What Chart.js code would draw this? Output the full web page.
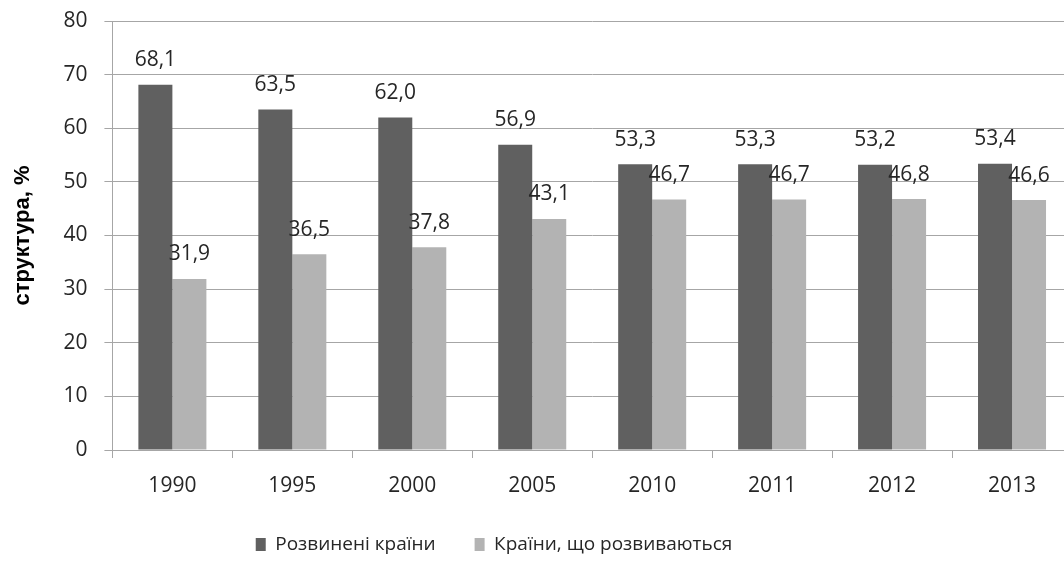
<!DOCTYPE html>
<html>
<head>
<meta charset="utf-8">
<script src="https://cdn.jsdelivr.net/npm/chart.js@4.4.1/dist/chart.umd.min.js"></script>
<style>
  html, body { margin: 0; padding: 0; background: #fff; overflow: hidden; }
  #wrap { position: relative; width: 1080px; height: 562px; }
</style>
</head>
<body>
<div id="wrap"><canvas id="c"></canvas></div>
<script>
const categories = ['1990', '1995', '2000', '2005', '2010', '2011', '2012', '2013'];
const developed = [68.1, 63.5, 62.0, 56.9, 53.3, 53.3, 53.2, 53.4];
const developing = [31.9, 36.5, 37.8, 43.1, 46.7, 46.7, 46.8, 46.6];
const seriesNames = ['Розвинені країни', 'Країни, що розвиваються'];
const yTitle = 'структура, %';

const FONT = "'Open Sans', 'Noto Sans', sans-serif";
const GRID = '#a6a6a6';
const TEXT = '#262626';

const valueLabels = {
  id: 'valueLabels',
  afterDatasetsDraw(chart) {
    const ctx = chart.ctx;
    ctx.save();
    ctx.font = '21px ' + FONT;
    ctx.fillStyle = TEXT;
    ctx.textAlign = 'center';
    ctx.textBaseline = 'bottom';
    chart.data.datasets.forEach((ds, i) => {
      const meta = chart.getDatasetMeta(i);
      meta.data.forEach((bar, j) => {
        const txt = ds.data[j].toFixed(1).replace('.', ',');
        ctx.fillText(txt, bar.x, bar.y - 14);
      });
    });
    ctx.restore();
  }
};

const legendShift = {
  id: 'legendShift',
  afterLayout(chart) {
    const lg = chart.legend;
    if (lg) { lg.left -= 42; lg.right -= 42; }
  }
};

new Chart(document.getElementById('c'), {
  type: 'bar',
  data: {
    labels: categories,
    datasets: [
      { label: seriesNames[0], data: developed, backgroundColor: '#606060', borderWidth: 0 },
      { label: seriesNames[1], data: developing, backgroundColor: '#b3b3b3', borderWidth: 0 }
    ]
  },
  options: {
    responsive: true,
    maintainAspectRatio: false,
    animation: false,
    devicePixelRatio: 1,
    layout: { padding: { left: 0, top: 21, right: 8, bottom: -2 } },
    datasets: { bar: { categoryPercentage: 0.567, barPercentage: 1.0 } },
    plugins: {
      tooltip: { enabled: false },
      legend: {
        position: 'bottom',
        labels: {
          font: { family: FONT, size: 19 },
          color: TEXT,
          boxWidth: 10,
          boxHeight: 13,
          padding: 39
        }
      }
    },
    scales: {
      x: {
        afterFit(scale) { scale.height = 46; },
        grid: {
          offset: true,
          drawOnChartArea: false,
          drawTicks: true,
          tickLength: 8,
          color: GRID
        },
        border: { color: GRID },
        ticks: {
          font: { family: FONT, size: 21 },
          color: TEXT,
          padding: 15,
          maxRotation: 0
        }
      },
      y: {
        min: 0,
        max: 80,
        afterFit(scale) { scale.paddingTop = 0; scale.paddingBottom = 0; },
        ticks: {
          stepSize: 10,
          font: { family: FONT, size: 21 },
          color: TEXT,
          padding: 17
        },
        grid: { color: GRID, tickLength: 8, lineWidth: 1 },
        border: { color: GRID },
        title: {
          display: true,
          text: yTitle,
          font: { family: "'Liberation Sans', Arial, sans-serif", size: 22, weight: 'bold' },
          color: '#000',
          padding: { top: 10, bottom: 10 }
        }
      }
    }
  },
  plugins: [valueLabels, legendShift]
});
</script>
</body>
</html>
